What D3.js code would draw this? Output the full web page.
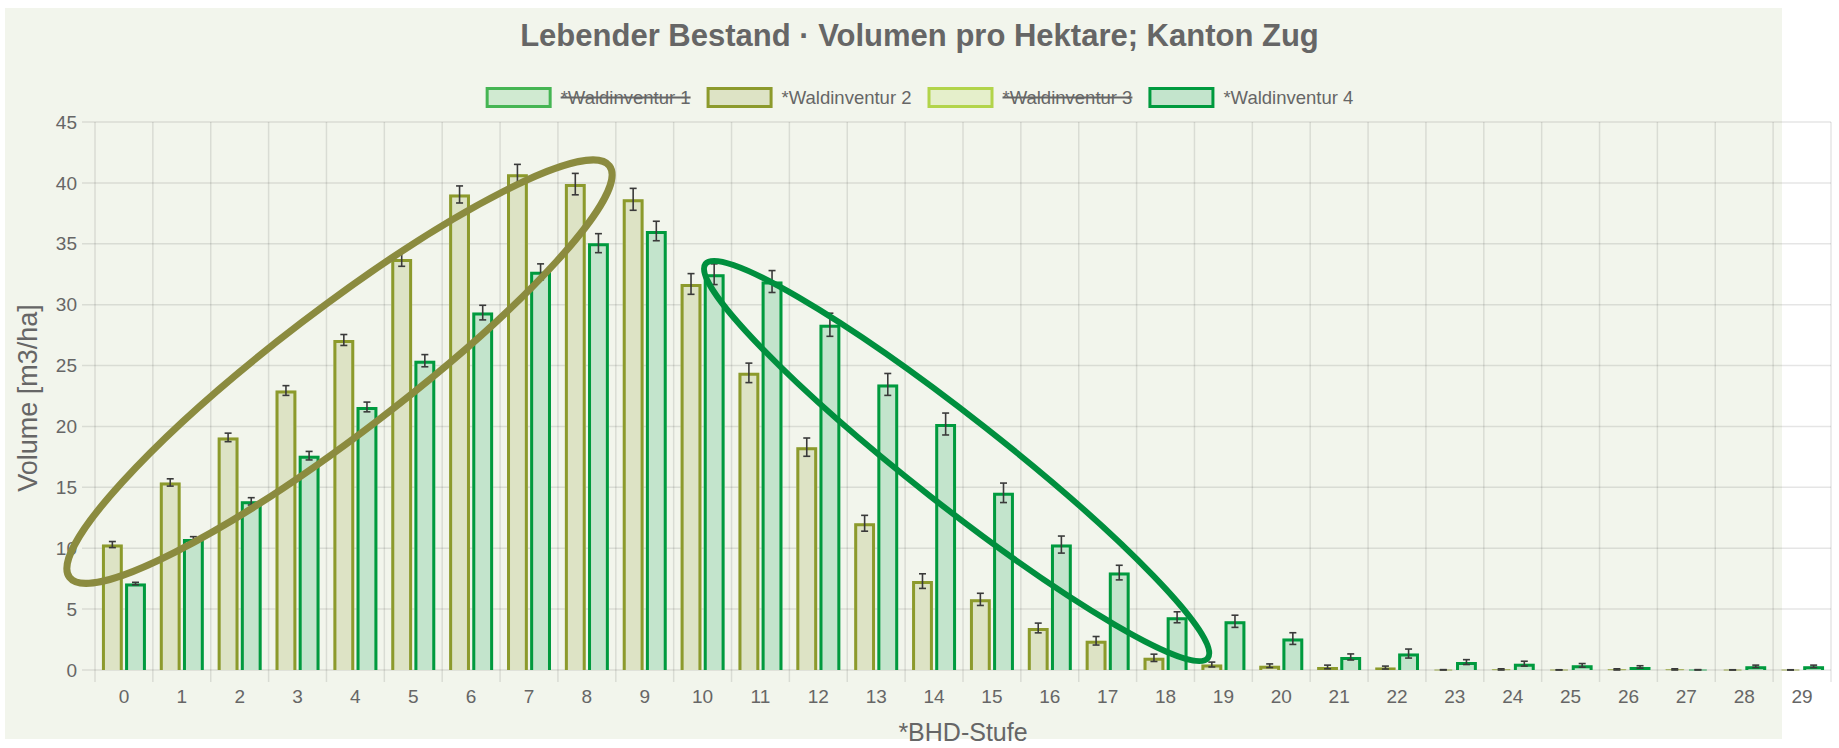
<!DOCTYPE html>
<html><head><meta charset="utf-8">
<script src="https://cdn.jsdelivr.net/npm/d3@7"></script>
<style>
body{margin:0;background:#fff;}
text{font-family:"Liberation Sans",Arial,Helvetica,sans-serif;}
</style>
</head><body>
<svg id="chart" width="1839" height="748"></svg>
<script>
// ---------- data ----------
const categories = ["0","1","2","3","4","5","6","7","8","9","10","11","12","13","14","15","16","17","18","19","20","21","22","23","24","25","26","27","28","29"];
const seriesNames = ["*Waldinventur 1","*Waldinventur 2","*Waldinventur 3","*Waldinventur 4"];
const seriesHidden = [true,false,true,false];
const wi2Values = [10.3,15.4,19.1,22.95,27.1,33.75,39.05,40.7,39.9,38.65,31.7,24.4,18.3,12.05,7.3,5.8,3.45,2.4,1.0,0.45,0.35,0.25,0.2,0.0,0.05,0.0,0.05,0.05,0.0,0.0];
const wi2Errors = [0.25,0.3,0.35,0.4,0.45,0.6,0.7,0.82,0.88,0.9,0.85,0.8,0.75,0.65,0.6,0.5,0.4,0.35,0.3,0.2,0.15,0.15,0.12,0.03,0.05,0.02,0.05,0.05,0.02,0.02];
const wi4Values = [7.1,10.75,13.85,17.6,21.6,25.4,29.35,32.7,35.05,36.05,32.5,31.9,28.35,23.45,20.2,14.55,10.3,8.0,4.33,4.0,2.58,1.07,1.35,0.65,0.52,0.38,0.25,0.0,0.3,0.3];
const wi4Errors = [0.1,0.2,0.3,0.35,0.4,0.5,0.6,0.65,0.78,0.8,0.85,0.9,0.95,0.9,0.9,0.8,0.7,0.6,0.45,0.5,0.48,0.25,0.37,0.2,0.2,0.15,0.1,0.03,0.1,0.1];
const yTicks = [0,5,10,15,20,25,30,35,40,45];
// annotation ellipses: major-axis tips in (category, value) space
const ellipseFrom = [[-0.94,7.6],[10.05,33.35]];
const ellipseTo   = [[8.39,41.4],[18.73,0.98]];

// ---------- layout / styles ----------
const W = 1839, H = 748;
const M = {left:95, right:1831, top:122, bottom:670};
const TXT = "#666666";
const GRID = "rgba(0,0,0,0.1)";
const seriesStroke = ["#45b553","#8c9a2c","#b2d44a","#009a3e"];
const seriesFill   = ["#d0ead1","#dde3c5","#e5efcb","#c3e4cc"];
const ellipseStroke = ["#8b8b3f","#008f3e"];
const ellipseWidth = [7,6];
const ellipseMinor = [62,44];

const svg = d3.select("#chart");

// background panel
svg.append("rect").attr("x",5).attr("y",8).attr("width",1777).attr("height",731).attr("fill","#f2f5ec");

const x = d3.scaleBand().domain(categories).range([M.left,M.right]).paddingInner(0).paddingOuter(0);
const xLin = d3.scaleLinear().domain([-0.5, categories.length-0.5]).range([M.left,M.right]);
const y = d3.scaleLinear().domain([0,45]).range([M.bottom,M.top]);
const visible = seriesNames.filter((d,i)=>!seriesHidden[i]);
const xs = d3.scaleBand().domain(visible).range([0.1*x.bandwidth(),0.9*x.bandwidth()]).paddingInner(0.1).paddingOuter(0.05);

// grid
const g = svg.append("g");
yTicks.forEach(t=>{
  g.append("line").attr("x1",M.left-13).attr("x2",M.right).attr("y1",y(t)).attr("y2",y(t))
   .attr("stroke",GRID).attr("stroke-width",1.5);
});
const bounds = categories.map(c=>x(c)).concat([M.right]);
bounds.forEach(b=>{
  g.append("line").attr("x1",b).attr("x2",b).attr("y1",M.top).attr("y2",M.bottom+12)
   .attr("stroke",GRID).attr("stroke-width",1.5);
});

// y tick labels
svg.append("g").selectAll("text").data(yTicks).join("text")
  .attr("x",77).attr("y",d=>y(d)).attr("dy","0.35em").attr("text-anchor","end")
  .attr("fill",TXT).attr("font-size",19).text(d=>d);
// x tick labels
svg.append("g").selectAll("text").data(categories).join("text")
  .attr("x",d=>x(d)+x.bandwidth()/2).attr("y",703).attr("text-anchor","middle")
  .attr("fill",TXT).attr("font-size",19).text(d=>d);

// bars
const seriesData = {"*Waldinventur 2":[wi2Values,wi2Errors,1],"*Waldinventur 4":[wi4Values,wi4Errors,3]};
const bw = 3;
visible.forEach(name=>{
  const [vals,errs,si] = seriesData[name];
  const gg = svg.append("g");
  categories.forEach((c,i)=>{
    const x0 = x(c)+xs(name), x1 = x0+xs.bandwidth();
    const yt = y(vals[i]), yb = y(0);
    gg.append("rect").attr("x",x0).attr("y",yt).attr("width",x1-x0).attr("height",Math.max(0,yb-yt))
      .attr("fill",seriesFill[si]);
    const h = yb-yt;
    const inset = Math.min(bw/2, h/2);
    gg.append("path")
      .attr("d",`M${x0+bw/2},${yb}V${yt+inset}H${x1-bw/2}V${yb}`)
      .attr("fill","none").attr("stroke",seriesStroke[si]).attr("stroke-width",Math.min(bw, Math.max(h,0.8)));
  });
  // error bars
  const ge = svg.append("g").attr("stroke","#3a3a3a").attr("stroke-width",1.6);
  categories.forEach((c,i)=>{
    const cx = x(c)+xs(name)+xs.bandwidth()/2;
    const ylo = y(Math.max(0,vals[i]-errs[i])), yhi = y(vals[i]+errs[i]);
    ge.append("line").attr("x1",cx).attr("x2",cx).attr("y1",ylo).attr("y2",yhi);
    ge.append("line").attr("x1",cx-3.5).attr("x2",cx+3.5).attr("y1",ylo).attr("y2",ylo);
    ge.append("line").attr("x1",cx-3.5).attr("x2",cx+3.5).attr("y1",yhi).attr("y2",yhi);
  });
});

// annotation ellipses
ellipseFrom.forEach((f,i)=>{
  const t = ellipseTo[i];
  const p1 = [xLin(f[0]), y(f[1])], p2 = [xLin(t[0]), y(t[1])];
  const cx = (p1[0]+p2[0])/2, cy = (p1[1]+p2[1])/2;
  const rx = Math.hypot(p2[0]-p1[0], p2[1]-p1[1])/2;
  const ang = Math.atan2(p2[1]-p1[1], p2[0]-p1[0])*180/Math.PI;
  svg.append("ellipse").attr("cx",0).attr("cy",0).attr("rx",rx).attr("ry",ellipseMinor[i])
    .attr("transform",`translate(${cx},${cy}) rotate(${ang})`)
    .attr("fill","none").attr("stroke",ellipseStroke[i]).attr("stroke-width",ellipseWidth[i]);
});

// title
svg.append("text").attr("x",W/2).attr("y",46).attr("text-anchor","middle")
  .attr("font-size",31).attr("font-weight","bold").attr("fill",TXT)
  .text("Lebender Bestand · Volumen pro Hektare; Kanton Zug");

// legend
const lg = svg.append("g");
let cur = 0;
seriesNames.forEach((n,i)=>{
  const it = lg.append("g");
  it.append("rect").attr("x",cur+1.5).attr("y",88.5).attr("width",63).attr("height",18)
    .attr("fill",seriesFill[i]).attr("stroke",seriesStroke[i]).attr("stroke-width",3);
  const tx = it.append("text").attr("x",cur+75).attr("y",104).attr("font-size",18.5).attr("fill",TXT).text(n);
  const tw = tx.node().getComputedTextLength();
  if(seriesHidden[i]){
    it.append("line").attr("x1",cur+75).attr("x2",cur+75+tw).attr("y1",97.5).attr("y2",97.5)
      .attr("stroke",TXT).attr("stroke-width",2);
  }
  cur += 75+tw+16;
});
const total = cur-16;
lg.attr("transform",`translate(${W/2-total/2},0)`);

// axis titles
svg.append("text").attr("transform",`translate(37,398) rotate(-90)`).attr("text-anchor","middle")
  .attr("font-size",27).attr("fill",TXT).text("Volume [m3/ha]");
svg.append("text").attr("x",(M.left+M.right)/2).attr("y",741).attr("text-anchor","middle")
  .attr("font-size",25).attr("fill",TXT).text("*BHD-Stufe");
</script>
</body></html>
